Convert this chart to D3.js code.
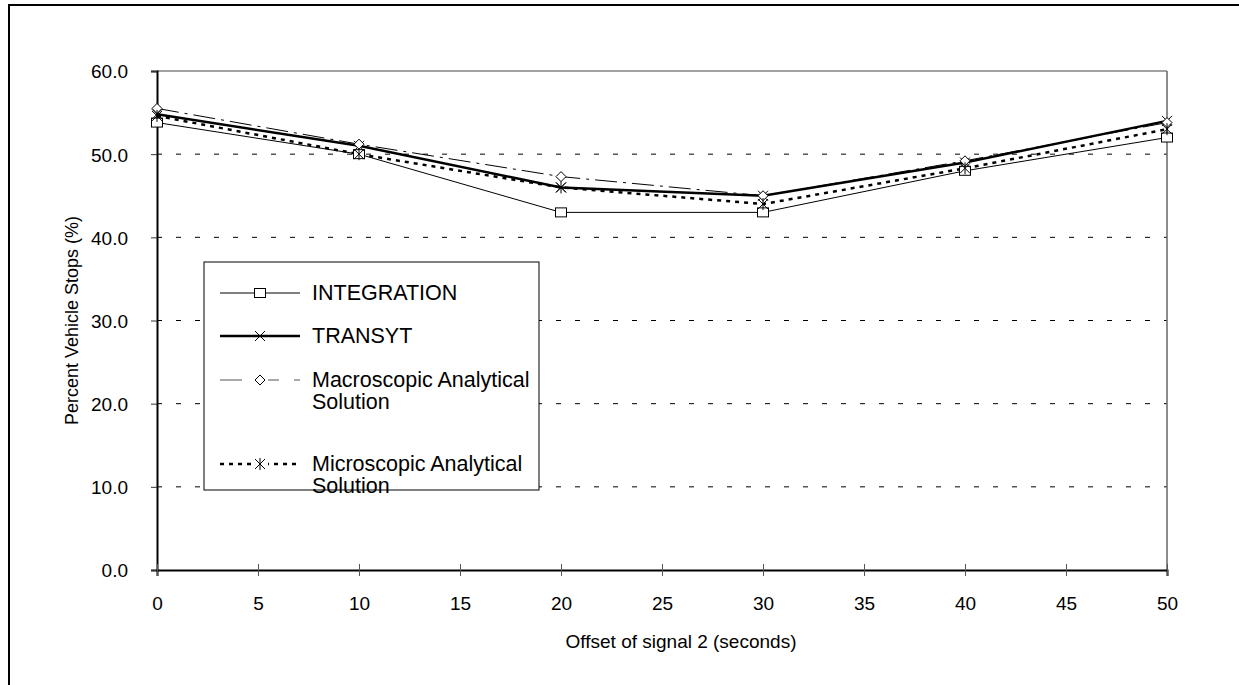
<!DOCTYPE html>
<html>
<head>
<meta charset="utf-8">
<script src="https://cdn.jsdelivr.net/npm/d3@7"></script>
<style>
  body { margin: 0; background: #fff; overflow: hidden; }
  svg { display: block; }
  svg text { font-family: "Liberation Sans", Arial, sans-serif; fill: #000; }
</style>
</head>
<body>
<svg id="chart" width="1239" height="685"></svg>
<script>
// offsets of signal 2 (seconds)
const offsets = [0, 10, 20, 30, 40, 50];

// percent vehicle stops
const integration = [53.8, 50.0, 43.0, 43.0, 48.0, 52.0];
const transyt     = [54.8, 51.0, 46.0, 45.0, 49.0, 54.0];
const macroscopic = [55.5, 51.2, 47.3, 45.0, 49.2, 53.8];
const microscopic = [54.6, 50.0, 46.0, 44.0, 48.3, 53.0];

const xTicks = [0, 5, 10, 15, 20, 25, 30, 35, 40, 45, 50];
const yTicks = [0, 10, 20, 30, 40, 50, 60];

const series = [
    { name: ["INTEGRATION"], values: integration, width: 1, dash: null, marker: "square" },
    { name: ["TRANSYT"], values: transyt, width: 2.5, dash: null, marker: "cross" },
    { name: ["Macroscopic Analytical", "Solution"], values: macroscopic, width: 1, dash: "22,6,3,6", marker: "diamond" },
    { name: ["Microscopic Analytical", "Solution"], values: microscopic, width: 2.5, dash: "4,5", marker: "star" }
];

const svg = d3.select("#chart");
const plotLeft = 157, plotRight = 1167, plotTop = 71, plotBottom = 570;

// outer frame: only its left and top edges are in view
svg.append("path")
    .attr("d", "M9,685V5H1239")
    .attr("fill", "none").attr("stroke", "#000").attr("stroke-width", 2);

const x = d3.scaleLinear().domain([0, 50]).range([plotLeft, plotRight]);
const y = d3.scaleLinear().domain([0, 60]).range([plotBottom, plotTop]);

// gridlines
svg.append("g")
    .selectAll("line")
    .data(yTicks.filter(v => v > 0 && v < 60))
    .enter().append("line")
    .attr("x1", plotLeft).attr("x2", plotRight)
    .attr("y1", d => y(d)).attr("y2", d => y(d))
    .attr("stroke", "#000").attr("stroke-width", 1)
    .attr("stroke-dasharray", "5,14");

// plot area border top/right
svg.append("line")
    .attr("x1", plotLeft).attr("x2", plotRight).attr("y1", y(60)).attr("y2", y(60))
    .attr("stroke", "#444").attr("stroke-width", 1);
svg.append("line")
    .attr("x1", plotRight).attr("x2", plotRight).attr("y1", y(60)).attr("y2", y(0))
    .attr("stroke", "#666").attr("stroke-width", 1.5);

// y axis
const yAxis = svg.append("g")
    .attr("transform", `translate(${plotLeft},0)`)
    .call(d3.axisLeft(y).tickValues(yTicks).tickFormat(d3.format(".1f")).tickSize(6).tickPadding(23));
yAxis.select(".domain").attr("stroke", "#000").attr("stroke-width", 2);
yAxis.selectAll(".tick line").attr("stroke", "#333");
yAxis.selectAll("text").style("font-size", "19px").attr("dy", "0.36em");

// x axis
const xAxis = svg.append("g")
    .attr("transform", `translate(0,${plotBottom})`)
    .call(d3.axisBottom(x).tickValues(xTicks).tickSize(6).tickPadding(21));
xAxis.select(".domain").attr("stroke", "#000").attr("stroke-width", 2);
xAxis.selectAll(".tick line").attr("y1", -6).attr("stroke", "#555");
xAxis.selectAll("text").style("font-size", "19px");

// axis titles
svg.append("text")
    .attr("transform", `translate(78,${(plotTop + plotBottom) / 2}) rotate(-90)`)
    .attr("text-anchor", "middle")
    .style("font-size", "18px")
    .text("Percent Vehicle Stops (%)");
svg.append("text")
    .attr("x", 681).attr("y", 648)
    .attr("text-anchor", "middle")
    .style("font-size", "19px")
    .text("Offset of signal 2 (seconds)");

function drawMarker(g, type, cx, cy) {
    if (type === "square") {
        g.append("rect").attr("x", cx - 5.5).attr("y", cy - 4.5).attr("width", 11).attr("height", 9)
            .attr("fill", "#fff").attr("stroke", "#000").attr("stroke-width", 1);
    } else if (type === "diamond") {
        g.append("path").attr("d", `M${cx},${cy - 5}L${cx + 5},${cy}L${cx},${cy + 5}L${cx - 5},${cy}Z`)
            .attr("fill", "#fff").attr("stroke", "#000").attr("stroke-width", 1);
    } else if (type === "cross") {
        g.append("path").attr("d", `M${cx - 5},${cy - 5}L${cx + 5},${cy + 5}M${cx - 5},${cy + 5}L${cx + 5},${cy - 5}`)
            .attr("stroke", "#000").attr("stroke-width", 1);
    } else if (type === "star") {
        g.append("path").attr("d", `M${cx - 5},${cy - 5}L${cx + 5},${cy + 5}M${cx - 5},${cy + 5}L${cx + 5},${cy - 5}M${cx},${cy - 6}L${cx},${cy + 6}`)
            .attr("stroke", "#000").attr("stroke-width", 1);
    }
}

const line = d3.line()
    .x((d, i) => x(offsets[i]))
    .y(d => y(d));

series.forEach(s => {
    svg.append("path")
        .datum(s.values)
        .attr("d", line)
        .attr("fill", "none")
        .attr("stroke", "#000")
        .attr("stroke-width", s.width)
        .attr("stroke-dasharray", s.dash);
});
series.forEach(s => {
    const g = svg.append("g");
    s.values.forEach((v, i) => drawMarker(g, s.marker, x(offsets[i]), y(v)));
});

// legend
const legend = svg.append("g");
legend.append("rect")
    .attr("x", 204).attr("y", 262).attr("width", 335).attr("height", 228)
    .attr("fill", "#fff").attr("stroke", "#000").attr("stroke-width", 1);

const legendRows = [293, 336, 380, 464];
series.forEach((s, i) => {
    const ly = legendRows[i];
    legend.append("line")
        .attr("x1", 220).attr("x2", 300).attr("y1", ly).attr("y2", ly)
        .attr("stroke", s.marker === "diamond" ? "#555" : "#000")
        .attr("stroke-width", s.width)
        .attr("stroke-dasharray", s.marker === "diamond" ? "22,15" : s.dash);
    if (s.marker === "diamond" || s.marker === "star") {
        legend.append("rect").attr("x", 252).attr("y", ly - 7).attr("width", 16).attr("height", 14).attr("fill", "#fff");
    }
    drawMarker(legend, s.marker, 260, ly);
    const t = legend.append("text")
        .attr("x", 312).attr("y", ly + 7)
        .style("font-size", "21.5px");
    s.name.forEach((n, k) => {
        t.append("tspan").attr("x", 312).attr("dy", k === 0 ? 0 : 22).text(n);
    });
});
</script>
</body>
</html>
